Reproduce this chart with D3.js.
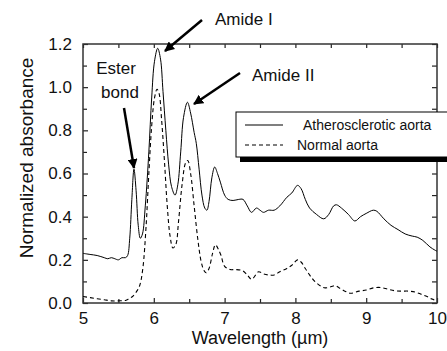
<!DOCTYPE html>
<html>
<head>
<meta charset="utf-8">
<script src="https://cdn.jsdelivr.net/npm/d3@7"></script>
<style>
  body { margin: 0; background: #fff; }
  svg { display: block; font-family: "Liberation Sans", Arial, sans-serif; }
</style>
</head>
<body>
<div id="chart"></div>
<script>
// atherosclerotic aorta (solid)
const atheroX = [5.0, 5.1, 5.2, 5.3, 5.35, 5.4, 5.45, 5.5, 5.55, 5.6, 5.63, 5.66, 5.69, 5.72, 5.75, 5.78, 5.81, 5.84, 5.88, 5.93, 5.97, 6.01, 6.055, 6.095, 6.13, 6.17, 6.21, 6.25, 6.3, 6.34, 6.38, 6.42, 6.475, 6.52, 6.57, 6.6, 6.64, 6.68, 6.72, 6.75, 6.78, 6.82, 6.86, 6.9, 6.94, 7.0, 7.05, 7.12, 7.2, 7.26, 7.32, 7.38, 7.45, 7.5, 7.55, 7.62, 7.7, 7.78, 7.88, 7.95, 8.03, 8.08, 8.14, 8.2, 8.3, 8.4, 8.47, 8.54, 8.58, 8.65, 8.75, 8.84, 8.92, 9.0, 9.1, 9.15, 9.25, 9.35, 9.45, 9.55, 9.65, 9.72, 9.8, 9.9, 9.97, 10.0];
const atheroY = [0.23, 0.225, 0.22, 0.21, 0.205, 0.21, 0.205, 0.2, 0.21, 0.21, 0.22, 0.3, 0.48, 0.62, 0.52, 0.36, 0.3, 0.32, 0.45, 0.7, 0.95, 1.12, 1.18, 1.13, 0.98, 0.8, 0.64, 0.54, 0.5, 0.55, 0.7, 0.86, 0.93, 0.88, 0.79, 0.74, 0.62, 0.5, 0.44, 0.43, 0.47, 0.58, 0.63, 0.6, 0.56, 0.5, 0.48, 0.475, 0.48, 0.48, 0.45, 0.42, 0.44, 0.43, 0.42, 0.43, 0.43, 0.45, 0.49, 0.51, 0.545, 0.53, 0.48, 0.44, 0.41, 0.39, 0.41, 0.45, 0.455, 0.44, 0.41, 0.38, 0.4, 0.415, 0.43, 0.425, 0.39, 0.36, 0.34, 0.32, 0.31, 0.305, 0.29, 0.26, 0.245, 0.24];

// normal aorta (dashed)
const normalX = [5.0, 5.1, 5.2, 5.3, 5.4, 5.5, 5.6, 5.65, 5.7, 5.75, 5.8, 5.845, 5.89, 5.93, 5.97, 6.01, 6.045, 6.075, 6.11, 6.15, 6.19, 6.23, 6.27, 6.31, 6.35, 6.4, 6.45, 6.48, 6.52, 6.57, 6.62, 6.67, 6.71, 6.74, 6.78, 6.83, 6.87, 6.91, 6.95, 7.0, 7.08, 7.15, 7.25, 7.32, 7.38, 7.44, 7.48, 7.55, 7.62, 7.7, 7.78, 7.88, 7.95, 8.03, 8.08, 8.14, 8.2, 8.26, 8.35, 8.42, 8.5, 8.56, 8.62, 8.7, 8.78, 8.9, 9.0, 9.1, 9.2, 9.3, 9.4, 9.5, 9.6, 9.7, 9.78, 9.86, 9.93, 10.0];
const normalY = [0.03, 0.025, 0.02, 0.015, 0.01, 0.01, 0.012, 0.02, 0.03, 0.05, 0.08, 0.16, 0.35, 0.6, 0.82, 0.95, 0.99, 0.97, 0.85, 0.66, 0.45, 0.31, 0.255, 0.27, 0.38, 0.55, 0.65, 0.66, 0.6, 0.45, 0.3, 0.19, 0.15, 0.14, 0.16, 0.23, 0.27, 0.25, 0.22, 0.17, 0.155, 0.155, 0.15, 0.13, 0.11, 0.13, 0.145, 0.135, 0.13, 0.13, 0.145, 0.16, 0.175, 0.2, 0.19, 0.16, 0.13, 0.105, 0.08, 0.07, 0.075, 0.08, 0.07, 0.055, 0.045, 0.055, 0.06, 0.07, 0.072, 0.065, 0.057, 0.055, 0.055, 0.05, 0.04, 0.03, 0.018, 0.01];

const xTicks = [5, 6, 7, 8, 9, 10];
const xMinor = [5.5, 6.5, 7.5, 8.5, 9.5];
const yTicks = [0, 0.2, 0.4, 0.6, 0.8, 1.0, 1.2];
const yMinor = [0.1, 0.3, 0.5, 0.7, 0.9, 1.1];
const seriesNames = ["Atherosclerotic aorta", "Normal aorta"];

const W = 447, H = 351;
const margin = {top: 44, right: 10, bottom: 48, left: 83};
const iw = W - margin.left - margin.right;
const ih = H - margin.top - margin.bottom;

const svg = d3.select("#chart").append("svg")
    .attr("width", W)
    .attr("height", H);

const g = svg.append("g")
    .attr("transform", "translate(" + margin.left + "," + margin.top + ")");

const x = d3.scaleLinear().domain([5, 10]).range([0, iw]);
const y = d3.scaleLinear().domain([0, 1.2]).range([ih, 0]);

// axes, ticks point inward
const fmt = d3.format(".1f");
function styleAxis(sel) {
  sel.select(".domain").remove();
  sel.selectAll(".tick line").attr("stroke", "#222").attr("stroke-width", 1.2);
  sel.selectAll("text").attr("fill", "#111").style("font-size", "17px");
}

g.append("g").attr("transform", "translate(0," + ih + ")")
    .call(d3.axisBottom(x).tickValues(xTicks).tickSize(-5).tickPadding(9).tickFormat(d3.format("d")))
    .call(styleAxis);
g.append("g").attr("transform", "translate(0," + ih + ")")
    .call(d3.axisBottom(x).tickValues(xMinor).tickSize(-4).tickFormat(""))
    .call(styleAxis);
g.append("g")
    .call(d3.axisTop(x).tickValues(xTicks.concat(xMinor)).tickSize(-4).tickFormat(""))
    .call(styleAxis);

g.append("g")
    .call(d3.axisLeft(y).tickValues(yTicks).tickSize(-5).tickPadding(11).tickFormat(fmt))
    .call(styleAxis);
g.append("g")
    .call(d3.axisLeft(y).tickValues(yMinor).tickSize(-4).tickFormat(""))
    .call(styleAxis);
g.append("g").attr("transform", "translate(" + iw + ",0)")
    .call(d3.axisRight(y).tickValues(yTicks.concat(yMinor)).tickSize(-5).tickFormat(""))
    .call(styleAxis);

// frame
g.append("rect")
    .attr("width", iw).attr("height", ih)
    .attr("fill", "none")
    .attr("stroke", "#333")
    .attr("stroke-width", 1.5);

// curves
const line = d3.line()
    .x(d => x(d[0]))
    .y(d => y(d[1]))
    .curve(d3.curveCatmullRom.alpha(0.5));

g.append("path")
    .datum(d3.zip(atheroX, atheroY))
    .attr("d", line)
    .attr("fill", "none")
    .attr("stroke", "#000")
    .attr("stroke-width", 1);

g.append("path")
    .datum(d3.zip(normalX, normalY))
    .attr("d", line)
    .attr("fill", "none")
    .attr("stroke", "#000")
    .attr("stroke-width", 1.1)
    .attr("stroke-dasharray", "4,3");

// axis titles
svg.append("text")
    .attr("x", margin.left + iw / 2)
    .attr("y", 344)
    .attr("text-anchor", "middle")
    .style("font-size", "18px")
    .attr("fill", "#111")
    .text("Wavelength (\u00b5m)");

svg.append("text")
    .attr("transform", "translate(33,158) rotate(-90)")
    .attr("text-anchor", "middle")
    .style("font-size", "19px")
    .attr("fill", "#111")
    .text("Normalized absorbance");

// annotations
svg.append("defs").append("marker")
    .attr("id", "head")
    .attr("viewBox", "0 0 10 10")
    .attr("refX", 9).attr("refY", 5)
    .attr("markerWidth", 4).attr("markerHeight", 4)
    .attr("markerUnits", "strokeWidth")
    .attr("orient", "auto")
  .append("path")
    .attr("d", "M0,0 L10,5 L0,10 z")
    .attr("fill", "#000");

const notes = [
  {lines: ["Amide I"], tx: 215, ty: 25, anchor: "start", from: [202, 20], to: [165, 51]},
  {lines: ["Amide II"], tx: 252, ty: 81, anchor: "start", from: [240, 73], to: [194, 104]},
  {lines: ["Ester", "bond"], tx: 116, ty: 74, anchor: "middle", from: [124, 108], to: [134, 168]}
];

notes.forEach(n => {
  svg.append("line")
      .attr("x1", n.from[0]).attr("y1", n.from[1])
      .attr("x2", n.to[0]).attr("y2", n.to[1])
      .attr("stroke", "#000")
      .attr("stroke-width", 2.5)
      .attr("marker-end", "url(#head)");
  n.lines.forEach((t, i) => {
    svg.append("text")
        .attr("x", n.tx + (i ? 4 : 0)).attr("y", n.ty + i * 24)
        .attr("text-anchor", n.anchor)
        .style("font-size", "17px")
        .attr("fill", "#111")
        .text(t);
  });
});

// legend with drop shadow
const lg = svg.append("g");
lg.append("rect")
    .attr("x", 240).attr("y", 116).attr("width", 210).attr("height", 46)
    .attr("fill", "#000");
lg.append("rect")
    .attr("x", 236).attr("y", 112).attr("width", 212).attr("height", 45)
    .attr("fill", "#fff")
    .attr("stroke", "#000")
    .attr("stroke-width", 1);

seriesNames.forEach((name, i) => {
  const yy = 125 + i * 20;
  lg.append("line")
      .attr("x1", 245).attr("x2", 283)
      .attr("y1", yy).attr("y2", yy)
      .attr("stroke", "#000")
      .attr("stroke-width", 1.1)
      .attr("stroke-dasharray", i ? "4,3" : null);
  lg.append("text")
      .attr("x", i ? 297 : 303).attr("y", yy + 5)
      .style("font-size", "14px")
      .attr("fill", "#111")
      .text(name);
});
</script>
</body>
</html>
